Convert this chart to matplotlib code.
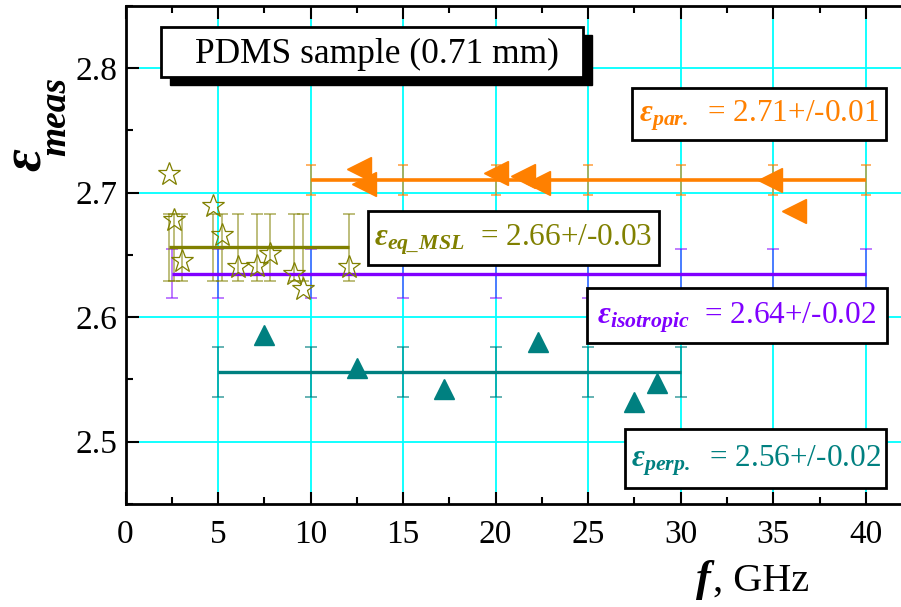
import numpy as np
import matplotlib
matplotlib.use("Agg")
import matplotlib.pyplot as plt
from matplotlib.patches import Rectangle
from matplotlib.ticker import MultipleLocator

plt.rcParams['font.family'] = ['Liberation Serif', 'DejaVu Serif']
plt.rcParams['mathtext.fontset'] = 'custom'
plt.rcParams['mathtext.rm'] = 'Liberation Serif'
plt.rcParams['mathtext.it'] = 'Liberation Serif:italic'
plt.rcParams['mathtext.bf'] = 'Liberation Serif:italic:bold'

# data
par_f = [12.6, 12.9, 20.0, 21.5, 22.3, 34.8, 36.1]
par_eps = [2.719, 2.707, 2.716, 2.713, 2.708, 2.710, 2.685]
par_mean, par_err = 2.71, 0.012
par_grid = [10, 15, 20, 25, 30, 35, 40]

perp_f = [7.5, 12.5, 17.2, 22.3, 27.5, 28.7]
perp_eps = [2.586, 2.559, 2.542, 2.580, 2.532, 2.547]
perp_mean, perp_err = 2.556, 0.02
perp_grid = [5, 10, 15, 20, 25, 30]

iso_mean, iso_err = 2.635, 0.02
iso_grid = [2.5, 5, 10, 15, 20, 25, 30, 35, 40]

msl_f = [2.35, 2.64, 3.04, 4.74, 5.2, 6.09, 7.12, 7.8, 9.11, 9.6, 12.09]
msl_eps = [2.715, 2.678, 2.645, 2.689, 2.666, 2.640, 2.641, 2.651, 2.635, 2.623, 2.640]
msl_mean, msl_err = 2.656, 0.027

ORANGE = '#ff8000'
PURPLE = '#8000ff'
TEAL = '#008080'
OLIVE = '#808000'

W, H = 901, 607
fig = plt.figure(figsize=(W / 100, H / 100), dpi=100)
ax = fig.add_axes([125.5 / W, (H - 504) / H, (W - 125.5) / W, (504 - 5.8) / H])
ax.set_xlim(0, 41.9)
ax.set_ylim(2.45, 2.85)

ax.grid(True, which='major', color='#00ffff', lw=1.3, zorder=0)
ax.set_axisbelow(True)


def mean_line(xs, m, e, color, lw, cap, ealpha):
    xs = np.asarray(xs, float)
    ax.errorbar(xs, np.full(len(xs), m), yerr=e, fmt='none', ecolor=color,
                elinewidth=1.2, capsize=cap, capthick=1.2, alpha=ealpha, zorder=2)
    ax.plot([xs.min(), xs.max()], [m, m], color=color, lw=lw, zorder=3,
            solid_capstyle='butt')


mean_line(par_grid, par_mean, par_err, ORANGE, 2.6, 3.5, 0.7)
mean_line(iso_grid, iso_mean, iso_err, PURPLE, 2.4, 4.5, 0.6)
mean_line(perp_grid, perp_mean, perp_err, TEAL, 2.4, 4.5, 0.7)
mean_line(msl_f, msl_mean, msl_err, OLIVE, 2.4, 4, 0.6)

ax.plot(par_f, par_eps, ls='none', marker='<', ms=17, color=ORANGE, mec=ORANGE, zorder=4)
ax.plot(perp_f, perp_eps, ls='none', marker='^', ms=15, color=TEAL, mec=TEAL, zorder=4)
ax.plot(msl_f, msl_eps, ls='none', marker='*', ms=17, mfc='none', mec=OLIVE,
        mew=0.9, zorder=4)

ax.xaxis.set_major_locator(MultipleLocator(5))
ax.xaxis.set_minor_locator(MultipleLocator(2.5))
ax.set_yticks([2.5, 2.6, 2.7, 2.8])
ax.yaxis.set_minor_locator(MultipleLocator(0.05))
ax.tick_params(which='both', direction='in', top=True, right=False, width=1.5,
               labelsize=24)
ax.tick_params(which='major', length=9)
ax.tick_params(which='minor', length=5)
ax.tick_params(axis='x', pad=11)
ax.tick_params(axis='y', pad=6)
for s in ['left', 'bottom', 'top']:
    ax.spines[s].set_linewidth(2)
ax.spines['right'].set_visible(False)


def px(x, y):
    return x / W, 1 - y / H


def box(x0, y0, x1, y1, txt, color, size, shadow=False, tx=None):
    if shadow:
        fig.patches.append(Rectangle(px(x0 + 9, y1 + 8), (x1 - x0) / W, (y1 - y0) / H,
                                     transform=fig.transFigure, color='black', zorder=5))
    fig.patches.append(Rectangle(px(x0, y1), (x1 - x0) / W, (y1 - y0) / H,
                                 transform=fig.transFigure, fc='white', ec='black',
                                 lw=2, zorder=6))
    cx = (x0 + x1) / 2 if tx is None else tx
    fig.text(*px(cx, (y0 + y1) / 2 + 2), txt, color=color, fontsize=size,
             ha='center', va='center', zorder=7)


box(161, 27, 583, 77, 'PDMS sample (0.71 mm)', 'black', 25.5, shadow=True, tx=377)
box(632, 88, 886, 140, r'$\mathbf{ε}_{\mathbf{par.}}$  = 2.71+/-0.01', ORANGE, 22.5)
box(368, 211, 659, 265, r'$\mathbf{ε}_{\mathbf{eq\_MSL}}$  = 2.66+/-0.03', OLIVE, 22.5)
box(587, 288, 887, 343, r'$\mathbf{ε}_{\mathbf{isotropic}}$  = 2.64+/-0.02', PURPLE, 22.5)
box(625, 429, 886, 488, r'$\mathbf{ε}_{\mathbf{perp.}}$  = 2.56+/-0.02', TEAL, 22.5)

# axis labels
fig.text(*px(27, 160), 'ε', rotation=90, fontsize=40, fontweight='bold',
         style='italic', ha='center', va='center')
fig.text(*px(56, 116), 'meas', rotation=90, fontsize=27, fontweight='bold',
         style='italic', ha='center', va='center')
fig.text(*px(711, 591), 'f', fontsize=32, fontweight='bold', style='italic',
         ha='right', va='baseline')
fig.text(*px(713, 591), ', GHz', fontsize=29, ha='left', va='baseline')

fig.savefig('out.png', dpi=100)
